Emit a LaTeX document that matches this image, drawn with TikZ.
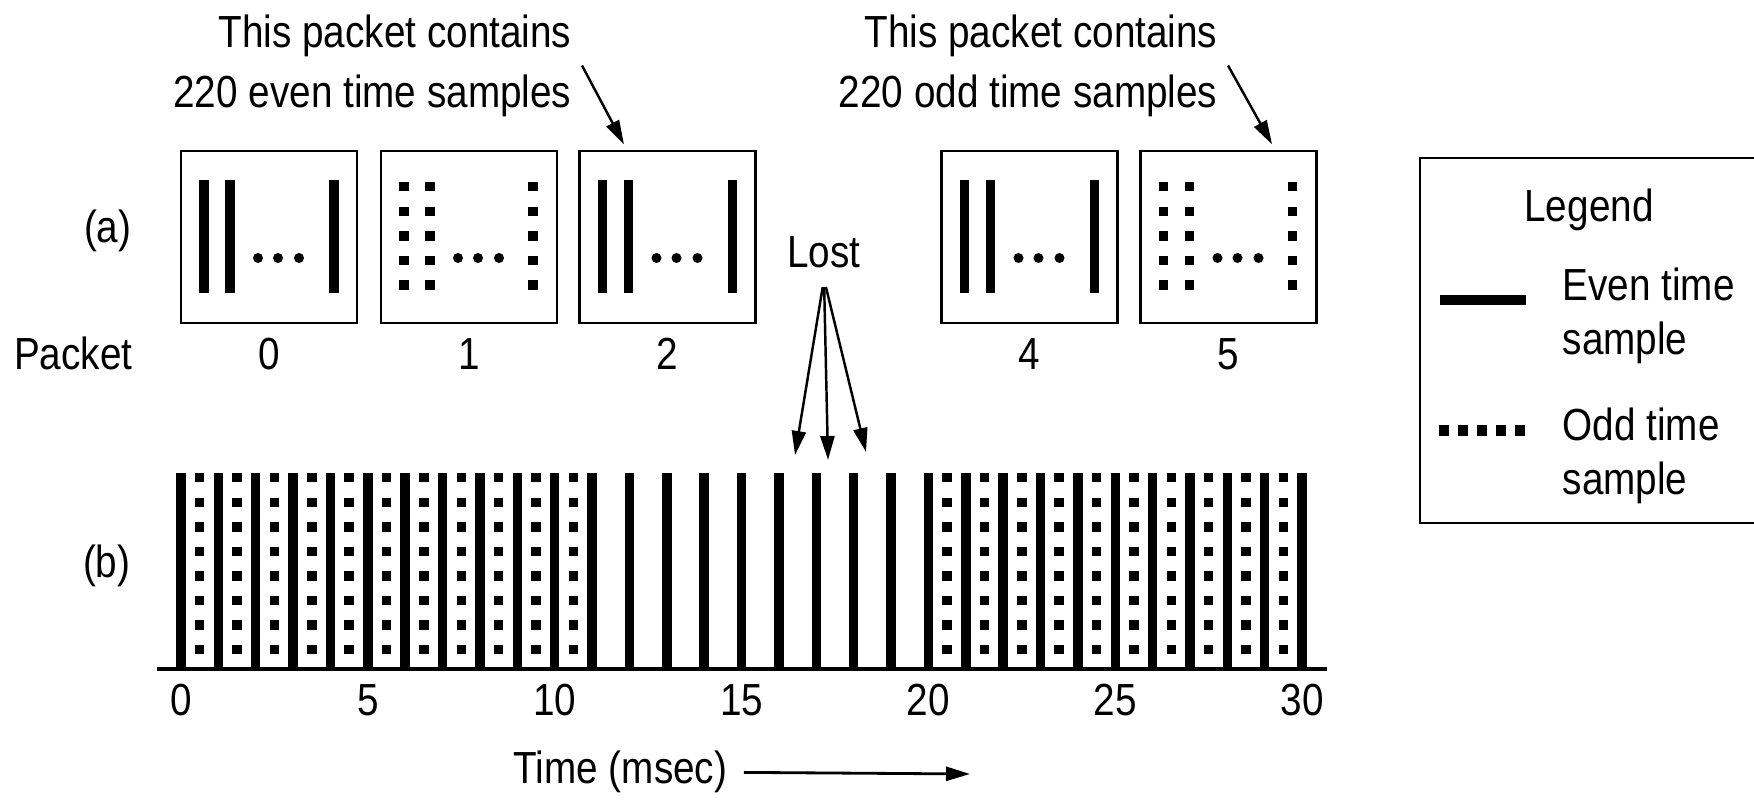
\documentclass[tikz,border=0pt]{standalone}
\usepackage{fontspec}
\setmainfont{Liberation Sans}[FakeStretch=0.86]
\usetikzlibrary{arrows.meta}

\begin{document}
\begin{tikzpicture}[x=0.1mm, y=-0.1mm, >={Triangle[length=2.4mm,width=1.4mm]},
  txt/.style={font=\fontsize{12.8}{17}\selectfont, inner sep=1mm},
  legtxt/.style={txt, font=\fontsize{12.8}{15.4}\selectfont, align=left, anchor=north west},
  pkt/.style={draw, line width=0.8pt, minimum width=17.6mm, minimum height=17.2mm, inner sep=0pt},
  evenbar/.style={line width=0.95mm},
  oddbar/.style={line width=0.95mm, dash pattern=on 0.95mm off 1.507mm},
  pointer/.style={->, line width=0.7pt}]

\useasboundingbox (0,0) rectangle (1754,800);

% Row labels
\node[txt, anchor=base east] (rowa) at (142,243) {(a)};
\node[txt, anchor=base east] (pktlabel) at (143,370) {Packet};
\node[txt, anchor=base east] (rowb) at (141,578) {(b)};

% Packets as sent (packet 3 never shows up)
\foreach \n/\cx in {0/269, 1/469, 2/667.5, 4/1029.5, 5/1228.5} {
  \node[pkt] (p\n) at (\cx,237) {};
  \node[txt, anchor=base] (num\n) at (\cx,370) {\n};
}

% Even packets: solid samples
\foreach \n in {0,2,4} {
  \begin{scope}[shift={(p\n.center)}]
    \foreach \dx in {-65,-39,65}
      \draw[evenbar] (\dx,-57) -- (\dx,56);
    \foreach \dx in {-11,9,30}
      \fill (\dx,21) circle (0.5mm);
  \end{scope}
}

% Odd packets: dotted samples
\foreach \n in {1,5} {
  \begin{scope}[shift={(p\n.center)}]
    \foreach \dx in {-65,-39,64}
      \draw[oddbar] (\dx,-55) -- (\dx,55);
    \foreach \dx in {-11,9,30}
      \fill (\dx,21) circle (0.5mm);
  \end{scope}
}

% Notes on packets 2 and 5
\node[txt, anchor=north east, align=right] (eventxt) at (582,4) {This packet contains\\220 even time samples};
\node[txt, anchor=north east, align=right] (oddtxt) at (1228,4) {This packet contains\\220 odd time samples};
\draw[pointer, shorten >=0.6mm] (eventxt.east) -- (p2.115);
\draw[pointer, shorten >=0.6mm] (oddtxt.east) -- (p5.62);

% Lost odd samples
\node[txt, anchor=base] (lost) at (824,268) {Lost};
\coordinate (miss1) at (795,455);
\coordinate (miss2) at (828,460);
\coordinate (miss3) at (866,452);
\foreach \m in {1,2,3}
  \draw[pointer, shorten <=0.8mm] (lost.south) -- (miss\m);

% Time axis
\draw[line width=0.4mm] (157,669) -- (1327,669);
\begin{scope}[shift={(181,669)}, x=3.737mm]
  % even samples, all of them
  \foreach \t in {0,...,30}
    \draw[evenbar] (\t,0) -- (\t,-196);
  % odd samples, gap where packet 3 went missing
  \foreach \a/\b in {0/10, 20/29}
    \foreach \t in {\a,...,\b}
      \draw[oddbar] (\t+0.5,-196) -- (\t+0.5,-10);
  \foreach \t in {0,5,...,30}
    \node[txt, anchor=base] (tick\t) at (\t,47) {\t};
\end{scope}

\node[txt, anchor=base west] (timelbl) at (503,784) {Time (msec)};
\coordinate (timeend) at (970,774);
\draw[pointer, line width=0.8pt, shorten <=0.6mm] (timelbl.east) -- (timeend);

% Legend
\draw[line width=0.8pt] (1754,158) -| (1420,523) -- (1754,523);
\node[txt, anchor=base] (legtitle) at (1589,222) {Legend};
\draw[line width=1.05mm] (1440,300) -- (1526,300);
\node[legtxt] (legeven) at (1552,257) {Even time\\sample};
\draw[line width=1.1mm, dash pattern=on 1mm off 0.91mm] (1439,431) -- (1527,431);
\node[legtxt] (legodd) at (1552,397) {Odd time\\sample};

\end{tikzpicture}
\end{document}
